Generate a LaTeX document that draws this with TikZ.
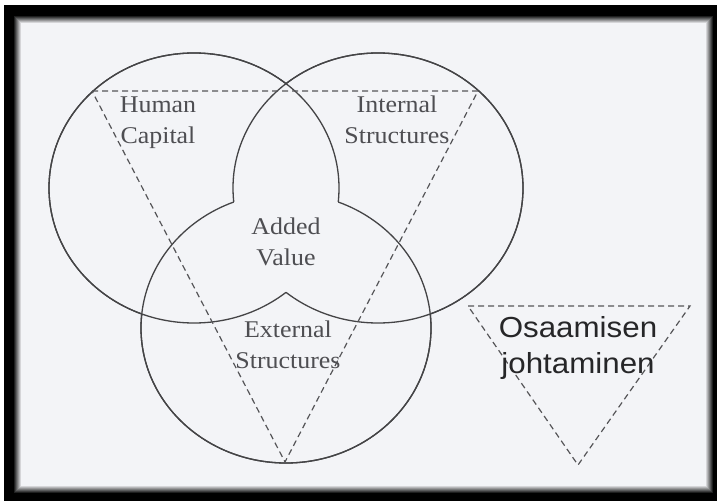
\documentclass[tikz,border=0pt]{standalone}
\usepackage{fontspec}
\setmainfont{Liberation Serif}
\newfontfamily\labelserif[FakeStretch=1.08]{Liberation Serif}
\newfontfamily\labelsans[FakeStretch=1.08]{Liberation Sans}
\definecolor{paper}{RGB}{243,244,247}
\definecolor{ringcol}{RGB}{68,68,70}
\definecolor{dashcol}{RGB}{85,85,88}
\definecolor{serifcol}{RGB}{78,78,82}
\definecolor{sanscol}{RGB}{38,38,40}
\tikzset{
  ring/.style={draw=ringcol, line width=1.3pt},
  dashline/.style={draw=dashcol, line width=1.2pt, dash pattern=on 6pt off 4pt, line join=miter},
  seriflabel/.style={font=\labelserif\fontsize{24}{31}\selectfont, text=serifcol,
    align=center, inner sep=0pt, anchor=base},
  sanslabel/.style={font=\labelsans\fontsize{29}{36}\selectfont, text=sanscol,
    align=center, inner sep=0pt, anchor=base},
  rad/.style={x radius=145pt, y radius=135pt},
}
\begin{document}
\begin{tikzpicture}[x=1pt, y=-1pt]
  \useasboundingbox (0,0) rectangle (720,503);
  \fill[white] (0,0) rectangle (720,503);
  % black picture frame with a soft inner bevel
  \fill[black] (4,5) rectangle (717,501);
  \foreach \i in {0,...,8}{
    \pgfmathsetmacro\p{\i*12.5}
    \pgfmathsetmacro\lx{13+\i}
    \pgfmathsetmacro\ty{15+\i}
    \pgfmathsetmacro\rx{714-\i}
    \pgfmathsetmacro\by{494-\i}
    \fill[paper!\p!black] (\lx,\ty) rectangle (\rx,\by);
  }

  % circle centres
  \coordinate (hcC) at (194,188);
  \coordinate (isC) at (378,188);
  \coordinate (esC) at (286,328);

  % three circles; each one is left out where it lies inside both others,
  % so the common overlap reads as one open region
  \begin{scope}[even odd rule]
    \clip (-20,-20) rectangle (740,523) (isC) ellipse [rad];
    \draw[ring] (hcC) ellipse [rad];
  \end{scope}
  \begin{scope}[even odd rule]
    \clip (-20,-20) rectangle (740,523) (esC) ellipse [rad];
    \draw[ring] (hcC) ellipse [rad];
  \end{scope}
  \begin{scope}[even odd rule]
    \clip (-20,-20) rectangle (740,523) (hcC) ellipse [rad];
    \draw[ring] (isC) ellipse [rad];
  \end{scope}
  \begin{scope}[even odd rule]
    \clip (-20,-20) rectangle (740,523) (esC) ellipse [rad];
    \draw[ring] (isC) ellipse [rad];
  \end{scope}
  \begin{scope}[even odd rule]
    \clip (-20,-20) rectangle (740,523) (hcC) ellipse [rad];
    \draw[ring] (esC) ellipse [rad];
  \end{scope}
  \begin{scope}[even odd rule]
    \clip (-20,-20) rectangle (740,523) (isC) ellipse [rad];
    \draw[ring] (esC) ellipse [rad];
  \end{scope}

  % inscribed dashed triangle
  \coordinate (tA) at (92,91);
  \coordinate (tB) at (478,91);
  \coordinate (tC) at (285,462);
  \draw[dashline] (tA) -- (tB) -- (tC) -- cycle;

  % small dashed triangle
  \coordinate (sA) at (468,306);
  \coordinate (sB) at (690,306);
  \coordinate (sC) at (578,465);
  \draw[dashline] (sA) -- (sB) -- (sC) -- cycle;

  % labels
  \node[seriflabel] (human)    at (158,143) {Human\\Capital};
  \node[seriflabel] (internal) at (397,143) {Internal\\Structures};
  \node[seriflabel] (added)    at (286,265) {Added\\Value};
  \node[seriflabel] (external) at (288,368) {External\\Structures};
  \node[sanslabel]  (osaam)    at (578,373) {Osaamisen\\johtaminen};
\end{tikzpicture}
\end{document}
